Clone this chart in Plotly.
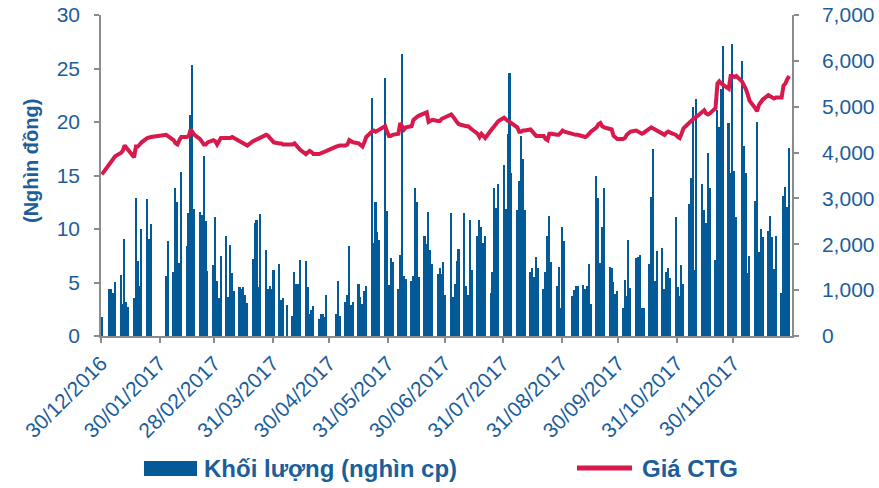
import pandas as pd
import plotly.graph_objects as go

# Trading calendar: 30/12/2016 plus 2017 sessions (market holidays removed)
holidays = ["2017-01-02", "2017-01-26", "2017-01-27", "2017-01-30", "2017-01-31",
            "2017-02-01", "2017-04-06", "2017-05-01", "2017-05-02", "2017-09-04"]
sessions = pd.bdate_range("2016-12-30", "2017-12-29")
sessions = sessions[~sessions.isin(pd.to_datetime(holidays))]

# Daily matched volume, thousand shares (one row per week)
volume = [
    420,
    1030, 1030, 930, 1170,
    1330, 700, 2120, 750, 630,
    820, 3010, 1630, 1100, 2330,
    2990, 2120, 2450,
    1310, 2080,
    1400, 3220, 2920, 1590, 3570,
    1960, 2680, 4810, 5900, 2780,
    2710, 2640, 3920, 2500, 1420,
    1540, 2590, 1190, 820, 1750,
    2170, 860, 1980, 1380, 980,
    1070, 1030, 1070, 890, 720,
    1680, 2470, 2540, 1070, 2660,
    1870, 1030, 1100, 1030, 1450,
    1560, 790, 820, 680,
    440, 1400, 1140, 1140, 1660,
    1630, 1070, 490, 560, 650,
    370, 470, 470, 420, 890,
    490, 1190, 440,
    750, 890, 1960, 680, 750,
    1140, 860, 700, 980, 1100,
    5200, 2030, 2920, 2260, 2100,
    5620, 2730, 1120, 1700, 1610,
    1030, 1770, 6140, 1310, 1240,
    1210, 1310, 3220, 2920, 1280,
    2170, 2010, 2710, 1870, 1560,
    1350, 1490, 1350, 1610, 890,
    2680, 860, 1140, 1630, 1890,
    2680, 1100, 890, 2540, 1450,
    2170, 2540, 2380, 2030, 2170,
    930, 1400, 3220, 2800, 3310,
    3730, 2780, 4410, 5740, 3550,
    2750, 3380, 4360, 3850, 2750,
    1400, 1490, 1280, 1730, 1490,
    1030, 1400, 2190, 2610, 1610,
    1100, 1500, 620, 2370, 2080,
    870, 1000, 1100, 1100,
    1120, 1020, 1080, 1580, 700,
    3500, 3000, 1600, 2380, 3230,
    1500, 1480, 1180, 910, 980,
    620, 1220, 870, 2100, 1050,
    1700, 1720, 1760, 620, 600,
    1580, 3040, 4080, 1200, 1850,
    1920, 1020, 1400, 1480, 1260,
    2600, 1070, 880, 1540, 1130,
    2870, 3440, 5000, 1430, 5170,
    3310, 2750, 2470, 4000, 3220,
    1660, 4920, 4560, 5380, 6330,
    4650, 3550, 6360, 3600, 2600,
    6000, 4150, 3550, 1380, 1750,
    2940, 4670, 1840, 2330, 2160,
    2300, 2620, 2160, 1460, 2190,
    940, 3060, 3260, 2820, 4090,
]

# Closing price of CTG, thousand VND (one row per week)
price = [
    15.1,
    16.1, 16.4, 16.6, 16.8,
    17.1, 17.3, 17.8, 17.6, 17.3,
    16.7, 17.7, 17.7, 17.9, 18.1,
    18.5, 18.6, 18.6,
    18.8, 18.7,
    18.3, 18.0, 17.9, 18.3, 18.6,
    18.6, 18.7, 19.3, 19.1, 18.8,
    18.4, 18.2, 17.9, 17.9, 18.1,
    18.3, 18.2, 17.9, 18.2, 18.5,
    18.5, 18.5, 18.5, 18.6, 18.5,
    18.1, 18.0, 17.9, 17.8, 17.8,
    18.2, 18.3, 18.4, 18.5, 18.6,
    18.8, 18.7, 18.5, 18.2, 18.1,
    18.0, 18.0, 17.9, 17.9,
    17.9, 18.0, 17.8, 17.5, 17.4,
    17.0, 17.1, 17.3, 17.2, 17.0,
    17.0, 17.1, 17.2, 17.3, 17.3,
    17.7, 17.8, 17.8,
    17.8, 17.9, 18.3, 18.2, 18.1,
    18.0, 17.8, 17.7, 18.1, 18.6,
    19.1, 19.2, 19.1, 19.2, 19.4,
    19.6, 19.1, 18.7, 18.7, 18.8,
    18.9, 19.9, 19.6, 19.3, 19.5,
    19.6, 20.2, 20.4, 20.5, 20.6,
    20.8, 20.9, 20.0, 20.1, 20.2,
    20.1, 20.1, 20.3, 20.4, 20.5,
    20.7, 20.5, 20.2, 20.0, 19.8,
    19.6, 19.6, 19.6, 19.5, 19.3,
    18.9, 18.6, 18.9, 18.7, 18.5,
    19.2, 19.4, 19.6, 19.8, 20.1,
    20.4, 20.2, 20.1, 20.0, 19.9,
    19.5, 19.1, 19.1, 19.2, 19.2,
    19.3, 19.1, 18.9, 18.7, 18.7,
    18.7, 18.4, 18.3, 18.9, 18.9,
    18.8, 18.8, 19.0, 19.2, 19.1,
    18.9, 18.8, 18.8, 18.8,
    18.6, 18.6, 18.7, 18.9, 19.1,
    19.5, 19.8, 19.9, 19.6, 19.5,
    19.4, 19.3, 18.7, 18.5, 18.4,
    18.4, 18.5, 18.8, 19.0, 19.1,
    19.2, 19.1, 18.9, 18.9, 19.0,
    19.3, 19.5, 19.4, 19.3, 19.2,
    18.9, 18.8, 19.0, 19.1, 19.0,
    18.8, 18.6, 18.5, 18.9, 19.4,
    19.9, 20.1, 20.3, 20.4, 20.5,
    21.0, 21.1, 20.8, 20.7, 20.8,
    21.3, 23.6, 23.8, 23.6, 23.5,
    23.1, 24.3, 24.3, 24.2, 24.3,
    23.8, 23.5, 23.1, 22.6, 22.0,
    21.3, 21.0, 21.6, 21.9, 22.1,
    22.5, 22.4, 22.3, 22.2, 22.3,
    22.3, 23.4, 23.6, 24.0, 24.3,
]

tick_dates = ["2016-12-30", "2017-01-30", "2017-02-28", "2017-03-31", "2017-04-30",
              "2017-05-31", "2017-06-30", "2017-07-31", "2017-08-31", "2017-09-30",
              "2017-10-31", "2017-11-30"]
tick_labels = [pd.Timestamp(d).strftime("%d/%m/%Y") for d in tick_dates]

legend_volume = "Khối lượng (nghìn cp)"
legend_price = "Giá CTG"
left_title = "(Nghìn đồng)"

assert len(volume) == len(sessions) == len(price)

BLUE = "#035A96"
RED = "#D7194C"
TEXT = "#1C5E9A"
AXIS = "#8C8C8C"
FONT = "Liberation Sans, Arial, sans-serif"

# each session is centred in its day slot
x = sessions + pd.Timedelta(hours=12)

fig = go.Figure()
fig.add_trace(go.Bar(x=x, y=volume, yaxis="y", marker=dict(color=BLUE, line=dict(width=0)),
                     width=0.85 * 86400000, name=legend_volume, showlegend=False))
fig.add_trace(go.Scatter(x=x, y=price, yaxis="y2", mode="lines",
                         line=dict(color=RED, width=4), name=legend_price, showlegend=False))

W, H = 879, 488
ML, MR, MT, MB = 101, 87, 15, 152
PW, PH = W - ML - MR, H - MT - MB


def px(xp):
    return (xp - ML) / PW


def py(yp):
    return (H - MB - yp) / PH


axis_common = dict(
    showline=True, linecolor=AXIS, linewidth=1.5,
    ticks="outside", ticklen=5, tickcolor=AXIS, tickwidth=1.5,
    showgrid=False, zeroline=False, automargin=False,
)

fig.update_layout(
    width=W, height=H,
    margin=dict(l=ML, r=MR, t=MT, b=MB, pad=0, autoexpand=False),
    paper_bgcolor="white", plot_bgcolor="white",
    font=dict(family=FONT, size=20, color=TEXT),
    bargap=0,
    xaxis=dict(
        type="date", range=["2016-12-30", "2017-12-31"],
        tickvals=tick_dates, ticktext=tick_labels, tickangle=-45,
        tickfont=dict(size=21, color=TEXT), **axis_common,
    ),
    yaxis=dict(
        side="right", range=[0, 7000], dtick=1000, tickformat=",d",
        ticklabelstandoff=19, tickfont=dict(size=21, color=TEXT), **axis_common,
    ),
    yaxis2=dict(
        side="left", overlaying="y", range=[0, 30], dtick=5,
        ticklabelstandoff=10, tickfont=dict(size=21, color=TEXT), **axis_common,
    ),
)

# left axis title
fig.add_annotation(x=px(31), y=py(161), xref="paper", yref="paper", text=left_title,
                   textangle=-90, showarrow=False, xanchor="center", yanchor="middle",
                   font=dict(size=20, color=TEXT, family=FONT, weight="bold"))

# legend drawn below the plot
fig.add_shape(type="rect", xref="paper", yref="paper", x0=px(144), x1=px(197),
              y0=py(476), y1=py(461), fillcolor=BLUE, line=dict(width=0))
fig.add_annotation(x=px(202), y=py(468), xref="paper", yref="paper", text=legend_volume,
                   showarrow=False, xanchor="left", yanchor="middle",
                   font=dict(size=24, color=TEXT, family=FONT, weight="bold"))
fig.add_shape(type="line", xref="paper", yref="paper", x0=px(577), x1=px(632),
              y0=py(468), y1=py(468), line=dict(color=RED, width=5))
fig.add_annotation(x=px(640), y=py(468), xref="paper", yref="paper", text=legend_price,
                   showarrow=False, xanchor="left", yanchor="middle",
                   font=dict(size=24, color=TEXT, family=FONT, weight="bold"))

fig.write_html("out.html")
